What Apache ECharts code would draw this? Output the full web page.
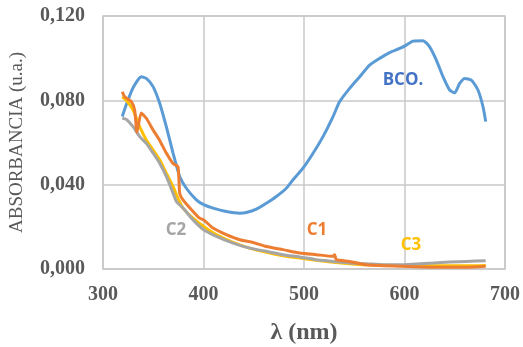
<!DOCTYPE html>
<html>
<head>
<meta charset="utf-8">
<script src="https://cdn.jsdelivr.net/npm/echarts@6/dist/echarts.min.js"></script>
<style>
  html, body { margin: 0; padding: 0; background: #fff; }
  #chart { width: 523px; height: 347px; }
</style>
</head>
<body>
<div id="chart"></div>
<script>
// wavelength (nm) / absorbance pairs
const bco = [
  [319.2, 0.0723], [323.2, 0.078], [329.9, 0.086], [338.1, 0.0912], [343.1, 0.0904],
  [349.8, 0.0865], [356.4, 0.0786], [363, 0.0675], [369.7, 0.055], [376.3, 0.0439],
  [382.9, 0.0383], [392.9, 0.0328], [400.2, 0.0305], [409.5, 0.0289], [422.7, 0.0273],
  [436, 0.0265], [442.6, 0.0268], [452.6, 0.0284], [462.5, 0.0312], [472.5, 0.0344],
  [482.4, 0.0383], [489.1, 0.0423], [499, 0.0478], [509, 0.0549], [518.9, 0.0628],
  [528.9, 0.0723], [535.5, 0.0794], [545.4, 0.0857], [555.4, 0.0912], [565.3, 0.0967],
  [575.3, 0.0999], [585.2, 0.1026], [595.2, 0.1046], [601.8, 0.1062], [608.5, 0.1081],
  [618.4, 0.1083], [625, 0.1054], [631.7, 0.0991], [638.3, 0.0912], [644.9, 0.0849],
  [649.9, 0.0836], [654.9, 0.088], [659.9, 0.0904], [666.5, 0.0896], [673.1, 0.0849],
  [678.1, 0.077], [680.8, 0.0699]
];
const c1 = [
  [319.2, 0.0841], [321.6, 0.0817], [328.2, 0.0794], [331.5, 0.0754], [333.8, 0.065],
  [338.1, 0.074], [343.1, 0.0715], [349.8, 0.066], [356.4, 0.061], [363, 0.055],
  [369.7, 0.05], [374.6, 0.0486], [376.3, 0.036], [379.6, 0.0328], [389.6, 0.0273],
  [396.2, 0.0241], [400.2, 0.0233], [409.5, 0.0194], [422.7, 0.0163], [436, 0.0139],
  [449.3, 0.0126], [462.5, 0.0107], [479.1, 0.0092], [495.7, 0.0076], [512.3, 0.0068],
  [528.9, 0.006], [530.5, 0.0068], [532.2, 0.0044], [545.4, 0.0036], [562, 0.002],
  [595.2, 0.0013], [628.4, 0.0008], [661.5, 0.0008], [680.8, 0.0013]
];
const c2 = [
  [319.2, 0.0715], [323.2, 0.071], [329.9, 0.0675], [336.5, 0.0628], [343.1, 0.0596],
  [349.8, 0.055], [356.4, 0.0502], [363, 0.0439], [369.7, 0.036], [373, 0.032],
  [379.6, 0.0289], [389.6, 0.0233], [400.2, 0.0186], [412.8, 0.0155], [429.4, 0.0123],
  [445.9, 0.0099], [462.5, 0.0084], [479.1, 0.0068], [495.7, 0.0057], [512.3, 0.0044],
  [528.9, 0.0036], [545.4, 0.0028], [562, 0.0025], [578.6, 0.002], [595.2, 0.002],
  [611.8, 0.0024], [628.4, 0.0028], [644.9, 0.0033], [661.5, 0.0036], [680.8, 0.0039]
];
const c3 = [
  [319.2, 0.0817], [323.2, 0.08], [329.9, 0.0754], [336.5, 0.0675], [343.1, 0.0612],
  [349.8, 0.0565], [356.4, 0.0518], [363, 0.0454], [369.7, 0.0391], [374.6, 0.0336],
  [379.6, 0.0289], [389.6, 0.0241], [400.2, 0.0202], [412.8, 0.0163], [429.4, 0.0126],
  [445.9, 0.0099], [462.5, 0.0079], [479.1, 0.0063], [495.7, 0.0052], [512.3, 0.0041],
  [528.9, 0.0032], [545.4, 0.0025], [562, 0.002], [595.2, 0.0017], [628.4, 0.0016],
  [661.5, 0.0015], [680.8, 0.0017]
];
const seriesNames = ["BCO.", "C1", "C2", "C3"];
const lineColors = ["#5B9BD5", "#ED7D31", "#A5A5A5", "#FFC000"];
const labelColors = ["#4472C4", "#ED7D31", "#A5A5A5", "#FFC000"];
// where each series name sits, in data units
const labelAt = [[598.5, 0.0895], [513, 0.0185], [372.6, 0.0185], [606.5, 0.0114]];

const chart = echarts.init(document.getElementById("chart"));
const allData = [bco, c1, c2, c3];

const option = {
  animation: false,
  grid: {
    left: 103, right: 18, top: 16, bottom: 78,
    outerBoundsMode: "none",
    show: true, borderColor: "#c4c4c4", borderWidth: 1.5
  },
  xAxis: {
    type: "value", min: 300, max: 700, interval: 100,
    name: "λ (nm)", nameLocation: "middle", nameGap: 52,
    nameTextStyle: { fontFamily: "Liberation Serif", fontWeight: "bold", fontSize: 24, color: "#595959" },
    axisLine: { show: false }, axisTick: { show: false },
    axisLabel: { fontFamily: "Liberation Serif", fontWeight: "bold", fontSize: 20, color: "#595959", margin: 16 },
    splitLine: { lineStyle: { color: "#c8c8c8", width: 1.5 } }
  },
  yAxis: {
    type: "value", min: 0, max: 0.12, interval: 0.04,
    name: "ABSORBANCIA (u.a.)", nameLocation: "middle", nameGap: 76,
    nameTextStyle: { fontFamily: "Liberation Serif", fontSize: 19, color: "#595959" },
    axisLine: { show: false }, axisTick: { show: false },
    axisLabel: {
      fontFamily: "Liberation Serif", fontWeight: "bold", fontSize: 20, color: "#595959", margin: 18,
      formatter: v => v.toFixed(3).replace(".", ",")
    },
    splitLine: { lineStyle: { color: "#c8c8c8", width: 1.5 } }
  },
  series: allData.map((d, i) => ({
    name: seriesNames[i],
    type: "line",
    data: d,
    showSymbol: false,
    smooth: 0.2,
    z: i === 0 ? 2 : 5 - i,
    lineStyle: { color: lineColors[i], width: 3 },
    markPoint: {
      symbolSize: 0,
      data: [{ coord: labelAt[i] }],
      label: {
        show: true, position: "inside", formatter: seriesNames[i],
        fontFamily: "Open Sans", fontWeight: "bold", fontSize: 17, color: labelColors[i]
      }
    }
  }))
};
chart.setOption(option);
</script>
</body>
</html>
